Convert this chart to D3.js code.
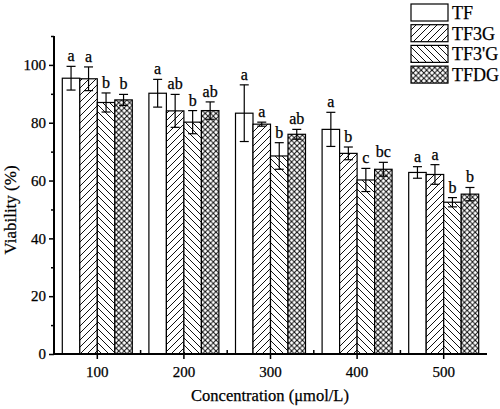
<!DOCTYPE html>
<html><head><meta charset="utf-8">
<script src="https://cdn.jsdelivr.net/npm/d3@7"></script>
<style>body{margin:0;background:#fff}svg{display:block}text{font-family:"Liberation Serif","Times New Roman",serif;fill:#000;stroke:#000;stroke-width:0.25px}</style>
</head><body><div id="c"></div>
<script>
const categories = ["100","200","300","400","500"];
const seriesNames = ["TF","TF3G","TF3'G","TFDG"];
const TF      = [95.4, 90.2, 83.3, 77.7, 62.8];
const TF3G    = [95.2, 84.1, 79.5, 69.4, 62.1];
const TF3pG   = [87.0, 80.2, 68.5, 60.2, 52.5];
const TFDG    = [87.9, 84.2, 76.0, 63.9, 55.3];
const errTF   = [4.1, 4.8, 9.8, 5.9, 2.0];
const errTF3G = [4.1, 5.7, 0.7, 2.2, 3.4];
const errTF3pG= [3.3, 4.0, 4.6, 4.0, 1.6];
const errTFDG = [1.9, 3.0, 1.7, 2.4, 2.3];
const lblTF   = ["a","a","a","a","a"];
const lblTF3G = ["a","ab","a","b","a"];
const lblTF3pG= ["b","b","b","c","b"];
const lblTFDG = ["b","ab","ab","bc","b"];
const yTicks = [0,20,40,60,80,100];

const values = [TF, TF3G, TF3pG, TFDG];
const errs = [errTF, errTF3G, errTF3pG, errTFDG];
const lbls = [lblTF, lblTF3G, lblTF3pG, lblTFDG];

const W=500,H=409;
const svg=d3.select("#c").append("svg").attr("width",W).attr("height",H);
const defs=svg.append("defs");
function hatch(id, paths, s){
  const p=defs.append("pattern").attr("id",id).attr("patternUnits","userSpaceOnUse").attr("width",s).attr("height",s);
  p.append("rect").attr("width",s).attr("height",s).attr("fill","#fff");
  paths.forEach(d=>p.append("path").attr("d",d).attr("stroke","#111").attr("stroke-width",1).attr("fill","none"));
}
hatch("p1",["M0,7 L7,0","M-1,1 L1,-1","M6,8 L8,6"],7);
hatch("p2",["M0,0 L7,7","M-1,6 L1,8","M6,-1 L8,1"],7);
hatch("p3",["M0,5.4 L5.4,0","M-1,1 L1,-1","M4.4,6.4 L6.4,4.4","M0,0 L5.4,5.4","M-1,4.4 L1,6.4","M4.4,-1 L6.4,1"],5.4);
const fills=["#fff","url(#p1)","url(#p2)","url(#p3)"];

const x0=54,x1=487,yb=354;
const x=d3.scaleBand().domain(categories).range([x0,x1]).paddingInner(0).paddingOuter(0);
const y=d3.scaleLinear().domain([0,110]).range([yb,36]);
const groupW=70;
const xs=d3.scaleBand().domain(seriesNames).range([0,groupW]);

const g=svg.append("g");
seriesNames.forEach((s,si)=>{
  categories.forEach((c,ci)=>{
    const bx=x(c)+x.bandwidth()/2-groupW/2+xs(s);
    const v=values[si][ci], e=errs[si][ci];
    g.append("rect").attr("x",bx).attr("y",y(v)).attr("width",xs.bandwidth()).attr("height",yb-y(v))
      .attr("fill",fills[si]).attr("stroke","#000").attr("stroke-width",1.2);
    const cx=bx+xs.bandwidth()/2;
    g.append("line").attr("x1",cx).attr("x2",cx).attr("y1",y(v+e)).attr("y2",y(v-e)).attr("stroke","#000").attr("stroke-width",1.2);
    [v+e,v-e].forEach(t=>g.append("line").attr("x1",cx-4.5).attr("x2",cx+4.5).attr("y1",y(t)).attr("y2",y(t)).attr("stroke","#000").attr("stroke-width",1.2));
    g.append("text").attr("x",cx).attr("y",y(v+e)-5).attr("text-anchor","middle").attr("font-size",16).text(lbls[si][ci]);
  });
});

// Y axis
const ya=svg.append("g").attr("transform",`translate(${x0},0)`)
  .call(d3.axisLeft(y).tickValues(yTicks).tickSize(5).tickPadding(3).tickFormat(d3.format("d")));
ya.select(".domain").remove();
ya.selectAll("text").attr("font-size",15).attr("font-family","Liberation Serif");
ya.selectAll("line").attr("stroke-width",1.5);
svg.append("g").attr("transform",`translate(${x0},0)`)
  .call(d3.axisLeft(y).tickValues([10,30,50,70,90,110]).tickSize(3).tickFormat(""))
  .call(a=>{a.select(".domain").remove();a.selectAll("line").attr("stroke-width",1.5);});
svg.append("line").attr("x1",x0).attr("x2",x0).attr("y1",y(110)).attr("y2",yb).attr("stroke","#000").attr("stroke-width",2);

// X axis
const xa=svg.append("g").attr("transform",`translate(0,${yb})`)
  .call(d3.axisBottom(x).tickSize(5).tickPadding(7));
xa.select(".domain").remove();
xa.selectAll("text").attr("font-size",15).attr("font-family","Liberation Serif");
xa.selectAll("line").attr("stroke-width",1.5);
const minorX=categories.slice(1).map(c=>x(c));
svg.append("g").selectAll("line").data(minorX).join("line")
  .attr("x1",d=>d).attr("x2",d=>d).attr("y1",yb).attr("y2",yb-4).attr("stroke","#000").attr("stroke-width",1.5);
svg.append("line").attr("x1",x0-1).attr("x2",x1).attr("y1",yb).attr("y2",yb).attr("stroke","#000").attr("stroke-width",2);

svg.append("text").attr("x",270).attr("y",401).attr("text-anchor","middle").attr("font-size",16.5).text("Concentration (μmol/L)");
svg.append("text").attr("transform","translate(16,210) rotate(-90)").attr("text-anchor","middle").attr("font-size",17).text("Viability (%)");

// Legend
const lg=svg.append("g");
seriesNames.forEach((s,i)=>{
  const ly=4+i*20.7;
  lg.append("rect").attr("x",411).attr("y",ly).attr("width",37).attr("height",17).attr("fill",fills[i]).attr("stroke","#000").attr("stroke-width",1.2);
  lg.append("text").attr("x",452).attr("y",ly+15).attr("font-size",18).text(s);
});
</script></body></html>
